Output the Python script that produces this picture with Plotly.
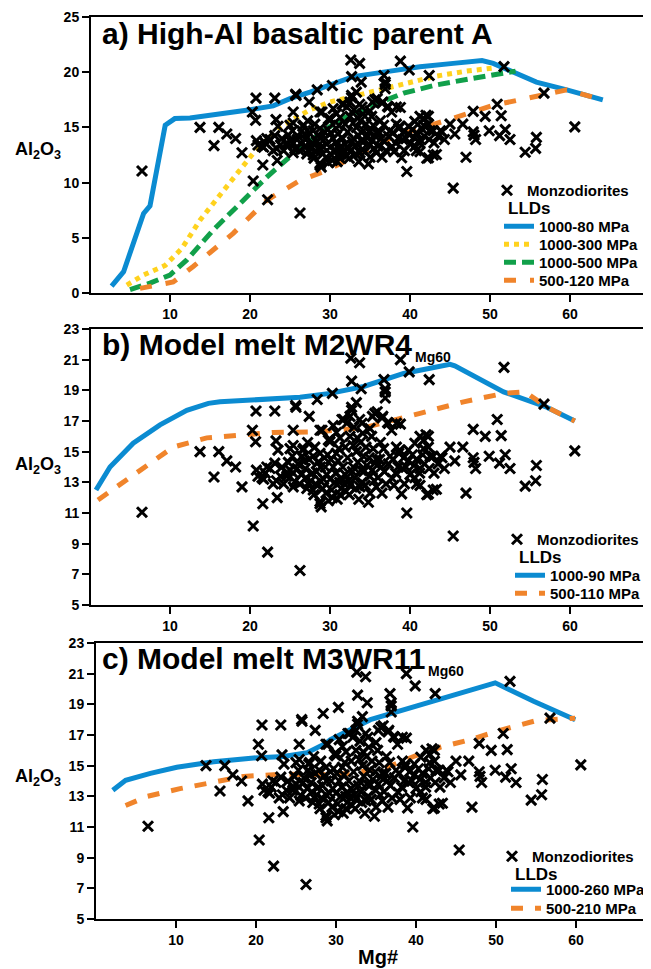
import plotly.graph_objects as go

# ---------------- data ----------------
# Monzodiorite samples (Mg#, Al2O3 wt%) - same dataset in every panel
mg = [6.5, 13.75, 16.1, 17.1, 18.2, 15.5, 19.0,
      20.75, 23.1, 25.7, 20.3, 20.7, 25.4, 23.25, 23.5, 25.0,
      20.8, 21.0, 21.7, 22.5, 23.1, 22.9, 21.6, 23.4, 20.4, 22.2, 26.25,
      25.0, 24.6, 25.4,
      32.6, 33.7, 32.7, 33.9, 36.75, 36.9, 30.3, 28.4, 25.75, 27.4,
      32.7, 32.5, 32.1, 33.7, 30.4, 31.7, 35.3, 35.9, 36.6, 29.0, 30.8, 30.0, 26.7, 25.4,
      38.8, 39.9, 42.4, 36.9, 36.9, 37.2, 37.7, 38.8, 47.9,
      36.7, 38.3, 38.6, 39.2, 39.8, 40.3,
      42.3, 41.7, 42.5, 44.0, 45.0, 46.6, 47.9,
      37.8, 38.95, 39.6, 40.8, 42.3, 43.3, 47.0, 45.4, 41.2, 41.8, 42.4,
      51.75, 56.75, 50.9, 49.4, 51.4, 48.0, 48.2, 49.9, 51.2, 51.9, 52.5, 55.8, 55.7, 54.4, 60.6,
      28.75, 31.5, 32.7, 33.3, 35.6, 36.5, 34.0, 33.0, 35.0, 37.3, 38.3,
      30.0, 31.25, 32.5, 31.9, 30.8, 29.7, 33.3, 34.2, 35.6, 35.4, 35.8, 28.75,
      37.5, 38.7, 38.5, 39.1,
      40.6, 41.25, 42.0, 41.7, 42.3, 42.9, 40.8, 41.25, 40.6, 41.25, 42.1, 42.9, 43.8, 45.6,
      25.4, 25.6, 26.5, 26.6, 27.0, 27.9, 28.75, 28.9, 28.3, 28.8, 29.3, 29.8, 24.6, 22.1, 21.9, 21.5, 23.3,
      29.4, 30.4, 31.6, 32.9, 34.2, 35.0, 28.75, 30.0, 31.2, 32.5, 33.75, 29.1, 30.2, 31.4, 32.4, 28.75, 35.0, 31.25,
      26.0, 26.9, 27.4, 27.8, 28.2, 29.6, 30.7, 31.0, 31.9, 32.2, 33.1, 33.5, 34.0, 34.6, 35.3, 36.0, 36.4,
      30.3, 29.8, 31.8, 32.8, 27.3, 26.4, 27.6, 28.5, 29.2, 30.1, 30.6, 31.4, 32.0, 32.3, 33.2, 33.9, 34.4,
      34.9, 35.5, 36.2, 36.8, 37.3, 37.0, 29.5, 30.9, 28.0, 27.1, 26.2, 25.9, 24.8, 24.2, 23.8, 33.6, 34.8,
      35.8, 36.5, 31.1, 32.9, 33.8, 34.5, 28.1, 27.2, 39.5, 40.0, 39.8, 38.2, 37.9, 40.5, 43.0, 43.5, 44.3,
      41.6, 38.0, 39.3, 36.3, 35.2, 34.1, 33.4, 27.9, 26.8, 25.3, 24.0]
al = [11.05, 15.0, 15.0, 14.4, 14.0, 13.35, 12.7,
      17.65, 17.65, 18.0, 16.4, 15.65, 16.4, 15.7, 15.1, 15.2,
      13.8, 13.4, 13.2, 13.9, 14.25, 12.9, 11.6, 12.0, 10.15, 8.45, 7.25,
      13.8, 13.4, 12.7,
      21.1, 20.8, 19.6, 19.1, 19.7, 19.1, 18.8, 18.4, 17.9, 17.3,
      17.9, 17.3, 16.85, 17.1, 16.7, 17.1, 17.3, 17.6, 17.3, 16.4, 16.25, 15.8, 15.2, 15.4,
      21.0, 20.2, 19.7, 18.9, 18.5, 16.9, 16.4, 16.8, 16.45,
      15.2, 15.3, 14.9, 14.6, 15.1, 14.8,
      16.0, 15.75, 14.7, 14.6, 15.3, 15.3, 14.6,
      13.25, 12.25, 11.0, 12.9, 12.25, 12.55, 12.3, 9.5, 13.6, 14.2, 13.9,
      20.5, 18.1, 17.1, 16.0, 16.05, 14.3, 13.9, 14.7, 14.25, 14.8, 13.9, 14.1, 13.1, 12.75, 15.05,
      16.4, 17.1, 17.7, 18.2, 17.5, 17.2, 16.85, 16.6, 16.5, 16.85, 16.85,
      15.65, 15.9, 16.0, 15.3, 14.9, 14.8, 15.0, 14.7, 14.25, 15.2, 14.5, 14.9,
      14.7, 15.1, 14.0, 13.9,
      15.55, 16.0, 16.1, 15.2, 15.3, 14.7, 14.5, 13.9, 13.3, 12.8, 12.2, 12.5, 14.7, 14.4,
      13.6, 13.05, 14.7, 15.1, 13.3, 12.5, 11.75, 11.4, 13.7, 14.0, 14.6, 15.75, 13.6, 14.0, 13.6, 13.3, 13.1,
      14.0, 14.0, 14.0, 14.0, 13.7, 13.4, 13.1, 13.2, 13.0, 12.8, 12.7, 12.6, 12.5, 12.6, 12.2, 11.6, 12.3, 12.2,
      14.2, 13.9, 14.5, 13.6, 12.9, 13.5, 13.6, 14.4, 13.5, 14.6, 13.3, 14.3, 13.0, 14.1, 13.8, 13.3, 14.0,
      12.0, 11.8, 12.9, 13.7, 12.9, 13.5, 13.1, 14.3, 13.2, 14.5, 13.0, 13.3, 12.4, 13.1, 12.6, 13.8, 12.8,
      14.6, 13.1, 14.5, 13.7, 14.2, 12.9, 12.3, 11.9, 12.2, 12.6, 12.9, 13.9, 14.3, 12.9, 13.4, 11.9, 11.7,
      12.7, 12.3, 15.2, 15.4, 15.6, 15.3, 15.3, 15.6, 14.0, 13.5, 14.4, 13.6, 14.5, 14.1, 13.6, 14.2, 13.9,
      14.8, 12.8, 12.9, 15.6, 16.0, 16.2, 15.9, 14.7, 14.4, 14.7, 14.0]

# Panel a LLDs
a_blue_mg = [2.7, 4.2, 6.7, 7.5, 9.4, 10.6, 12.5, 17.5, 20.0, 22.9, 25.0, 27.5, 30.0, 32.9, 37.1, 41.25, 45.4, 49.0, 50.4, 52.9, 55.8, 59.6, 64.1]
a_blue_al = [0.63, 1.93, 7.2, 7.9, 15.2, 15.8, 15.85, 16.3, 16.6, 16.95, 17.6, 18.2, 18.8, 19.6, 20.05, 20.5, 20.8, 21.05, 20.8, 20.05, 19.1, 18.4, 17.5]
a_yellow_mg = [4.6, 6.7, 9.4, 11.5, 13.75, 17.1, 20.4, 23.75, 27.5, 30.0, 32.9, 37.9, 43.3, 47.1, 50.0, 50.6]
a_yellow_al = [0.72, 1.63, 2.5, 4.05, 6.6, 9.6, 12.65, 15.05, 16.6, 17.3, 17.8, 18.7, 19.65, 20.1, 20.35, 20.4]
a_green_mg = [5.0, 7.5, 10.0, 12.1, 15.4, 18.75, 22.1, 25.0, 28.75, 31.25, 35.0, 39.2, 43.3, 47.9, 52.7, 53.2]
a_green_al = [0.3, 0.9, 1.63, 3.0, 5.7, 8.1, 10.5, 12.35, 14.45, 15.7, 16.9, 18.1, 18.85, 19.45, 20.05, 20.1]
a_orange_mg = [6.25, 10.0, 10.4, 12.9, 17.9, 22.1, 26.25, 29.6, 32.9, 37.9, 44.6, 50.4, 53.75, 57.5, 59.6, 64.1]
a_orange_al = [0.42, 0.87, 1.0, 2.4, 5.4, 8.4, 10.2, 11.1, 12.35, 14.15, 15.65, 17.0, 17.5, 18.1, 18.4, 17.5]

# Panel b LLDs
b_blue_mg = [0.75, 2.5, 5.4, 8.75, 12.1, 14.8, 16.25, 22.1, 26.25, 30.0, 34.2, 39.2, 45.0, 45.6, 51.7, 57.1, 60.6]
b_blue_al = [12.5, 14.0, 15.55, 16.75, 17.7, 18.15, 18.25, 18.4, 18.55, 18.8, 19.25, 20.1, 20.7, 20.6, 18.9, 17.9, 17.0]
b_orange_mg = [1.0, 2.5, 6.25, 10.4, 14.6, 18.75, 22.9, 28.75, 34.6, 41.25, 46.7, 51.7, 54.4, 57.1, 60.6]
b_orange_al = [11.85, 12.4, 13.8, 15.3, 15.9, 16.1, 16.25, 16.3, 16.6, 17.5, 18.25, 18.8, 18.9, 17.9, 17.0]

# Panel c LLDs
c_blue_mg = [2.1, 3.7, 6.8, 10.1, 14.7, 19.7, 23.45, 26.4, 28.7, 29.3, 34.3, 38.9, 44.7, 49.9, 54.7, 59.9]
c_blue_al = [13.4, 14.05, 14.5, 14.9, 15.25, 15.5, 15.6, 15.85, 16.45, 16.7, 18.0, 18.7, 19.6, 20.4, 19.2, 18.0]
c_orange_mg = [3.7, 6.4, 10.5, 14.7, 18.45, 23.45, 27.6, 32.0, 36.4, 39.7, 43.0, 46.8, 50.5, 55.1, 59.9]
c_orange_al = [12.4, 13.0, 13.5, 13.9, 14.3, 14.45, 14.4, 14.5, 14.9, 15.6, 16.2, 16.7, 17.3, 17.95, 18.1]

titles = ["a) High-Al basaltic parent A", "b) Model melt M2WR4", "c) Model melt M3WR11"]
subscripts = ["", "Mg60", "Mg60"]

# ---------------- layout helpers ----------------
# The page body has an 8px margin, so the figure is drawn 8px in from the window edge.
OFF = 8
WIN_W, WIN_H = 651, 969
W, H = WIN_W - OFF, WIN_H - OFF
def xp(px): return (px - OFF) / W
def yp(py): return 1 - (py - OFF) / H

FONT = "Liberation Sans, Arial, Helvetica, sans-serif"
BLUE = "#0B8BD1"
YELLOW = "#FFD21E"
GREEN = "#11A04A"
ORANGE = "#F0842B"

fig = go.Figure()

panels = [
    dict(ax="", lines=[(a_blue_mg, a_blue_al, BLUE, "solid", "1000-80 MPa"),
                       (a_yellow_mg, a_yellow_al, YELLOW, "dot", "1000-300 MPa"),
                       (a_green_mg, a_green_al, GREEN, "12px,6px", "1000-500 MPa"),
                       (a_orange_mg, a_orange_al, ORANGE, "12px,14px", "500-120 MPa")],
         mon=(487, 190), lld=(506, 208), entries=[226, 244, 262, 280], leg_x=499),
    dict(ax="2", lines=[(b_blue_mg, b_blue_al, BLUE, "solid", "1000-90 MPa"),
                        (b_orange_mg, b_orange_al, ORANGE, "12px,12px", "500-110 MPa")],
         mon=(497, 539), lld=(517, 557), entries=[575, 593], leg_x=510),
    dict(ax="3", lines=[(c_blue_mg, c_blue_al, BLUE, "solid", "1000-260 MPa"),
                        (c_orange_mg, c_orange_al, ORANGE, "12px,12px", "500-210 MPa")],
         mon=(492, 856), lld=(513, 874), entries=[889, 908], leg_x=506),
]

leg_font = dict(family=FONT, size=15, color="black", weight="bold")
LEG_DY = 16    # item centre ~ legend top + LEG_DY (calibrated)
legends = {}
leg_counter = [0]
def new_legend(left_x, center_y):
    leg_counter[0] += 1
    key = "legend" if leg_counter[0] == 1 else "legend%d" % leg_counter[0]
    legends[key] = dict(x=xp(left_x), y=yp(center_y - LEG_DY),
                        xanchor="left", yanchor="top", bgcolor="rgba(0,0,0,0)",
                        borderwidth=0, font=leg_font, itemwidth=30)
    return key

annotations = []
for p in panels:
    xa, ya = "x" + p["ax"], "y" + p["ax"]
    for k, (xs, ys, col, dash, name) in enumerate(p["lines"]):
        key = new_legend(p["leg_x"], p["entries"][k])
        fig.add_trace(go.Scatter(x=xs, y=ys, mode="lines", name=name,
                                 line=dict(color=col, width=5, dash=dash),
                                 xaxis=xa, yaxis=ya, legend=key))
    key = new_legend(p["mon"][0], p["mon"][1])
    fig.add_trace(go.Scatter(x=mg, y=al, mode="markers", name="Monzodiorites",
                             marker=dict(symbol="x-thin", size=10, color="black",
                                         line=dict(width=3, color="black")),
                             xaxis=xa, yaxis=ya, legend=key))
    annotations.append(dict(text="LLDs", xref="paper", yref="paper", x=xp(p["lld"][0]),
                            y=yp(p["lld"][1]), xanchor="left", yanchor="middle", showarrow=False,
                            font=dict(family=FONT, size=17, color="black", weight="bold")))

axis_common = dict(showline=True, linecolor="black", linewidth=2, mirror=True,
                   ticks="outside", ticklen=7, tickwidth=2, tickcolor="black",
                   showgrid=False, zeroline=False,
                   tickfont=dict(family=FONT, size=14, color="black", weight="bold"))

# plot areas in window pixels: (left, right, top, bottom)
boxes = [(91, 648, 17, 293), (91, 648, 329, 605), (96, 648, 643, 919)]
xranges = [[0.125, 69.75], [0.125, 69.75], [0.0, 69.0]]
yranges = [[0, 25], [5, 23], [5, 23]]
yticks = [[0, 5, 10, 15, 20, 25], list(range(5, 24, 2)), list(range(5, 24, 2))]

layout_axes = {}
for i, (l, r, t, b) in enumerate(boxes):
    sfx = "" if i == 0 else str(i + 1)
    layout_axes["xaxis" + sfx] = dict(axis_common, domain=[xp(l), xp(r)], range=xranges[i],
                                      tickvals=[10, 20, 30, 40, 50, 60],
                                      anchor="y" + sfx)
    layout_axes["yaxis" + sfx] = dict(axis_common, domain=[yp(b), yp(t)], range=yranges[i],
                                      tickvals=yticks[i], anchor="x" + sfx)

title_y = [34, 345, 658]
sub_pos = [None, (413, 357), (426, 671)]
ytitle_y = [150, 465, 777]
for i in range(3):
    annotations.append(dict(text=titles[i], xref="paper", yref="paper", x=xp(100), y=yp(title_y[i]),
                            xanchor="left", yanchor="middle", showarrow=False,
                            font=dict(family=FONT, size=30, color="black", weight="bold")))
    if subscripts[i]:
        sx, sy = sub_pos[i]
        annotations.append(dict(text=subscripts[i], xref="paper", yref="paper", x=xp(sx), y=yp(sy),
                                xanchor="left", yanchor="middle", showarrow=False,
                                font=dict(family=FONT, size=14, color="black", weight="bold")))
    annotations.append(dict(text="Al<sub>2</sub>O<sub>3</sub>", xref="paper", yref="paper",
                            x=xp(38), y=yp(ytitle_y[i]), xanchor="center", yanchor="middle",
                            showarrow=False,
                            font=dict(family=FONT, size=18, color="black", weight="bold")))
annotations.append(dict(text="Mg#", xref="paper", yref="paper", x=xp(378), y=yp(957),
                        xanchor="center", yanchor="middle", showarrow=False,
                        font=dict(family=FONT, size=20, color="black", weight="bold")))

fig.update_layout(
    width=W, height=H, autosize=False,
    margin=dict(l=0, r=0, t=0, b=0, autoexpand=False),
    paper_bgcolor="white", plot_bgcolor="white",
    showlegend=True,
    annotations=annotations,
    **legends,
    **layout_axes,
)

fig.write_html("out.html")
